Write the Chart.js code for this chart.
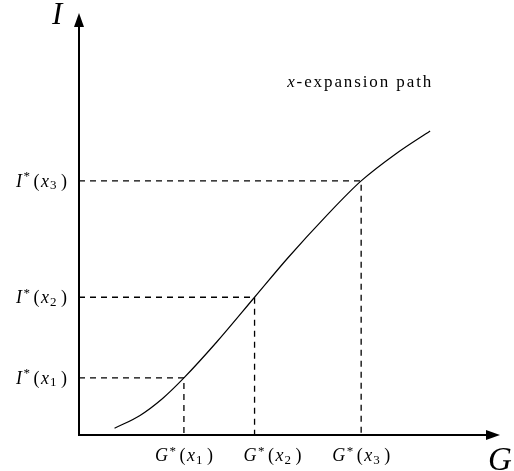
<!DOCTYPE html>
<html>
<head>
<meta charset="utf-8">
<script src="https://cdn.jsdelivr.net/npm/chart.js@4"></script>
<style>
  html, body { margin: 0; padding: 0; background: #fff; }
  #wrap { width: 514px; height: 471px; position: relative; }
</style>
</head>
<body>
<div id="wrap"><canvas id="pathChart"></canvas></div>
<script>
// expansion path, G on the horizontal axis, I on the vertical one
const pathG = [0.85, 1.45, 2.00, 2.51, 3.30, 4.20, 5.00, 5.90, 6.75, 7.60, 8.40];
const pathI = [0.16, 0.46, 0.87, 1.36, 2.22, 3.28, 4.22, 5.20, 6.05, 6.71, 7.24];

// optimal bundles for x1, x2, x3 (they sit on the path)
const starG = [2.51, 4.20, 6.75];
const starI = [1.36, 3.28, 6.05];
const subscripts = ['1', '2', '3'];

const axisTitles = { x: 'G', y: 'I' };
const pathLabel = ['x', '-expansion path'];

const SERIF = '"Liberation Serif", "DejaVu Serif", serif';

function fontFor(kind, size) {
  if (kind === 'i') return 'italic ' + size + 'px ' + SERIF;
  if (kind === 'sup' || kind === 'sub') return Math.round(size * 0.74) + 'px ' + SERIF;
  return size + 'px ' + SERIF;
}

// draws a small formula like I*(x_1); parts are [text, kind], gaps sit between parts
function drawMath(ctx, parts, gaps, x, y, align, size) {
  const widths = parts.map(([t, k]) => { ctx.font = fontFor(k, size); return ctx.measureText(t).width; });
  const total = widths.reduce((a, b) => a + b, 0) + gaps.reduce((a, b) => a + b, 0);
  let cx = align === 'right' ? x - total : align === 'center' ? x - total / 2 : x;
  ctx.textBaseline = 'alphabetic';
  ctx.textAlign = 'left';
  parts.forEach(([t, k], i) => {
    ctx.font = fontFor(k, size);
    let dy = 0;
    if (k === 'sup') dy = -size * 0.36;
    if (k === 'sub') dy = size * 0.14;
    ctx.fillText(t, cx, y + dy);
    cx += widths[i] + (gaps[i] || 0);
  });
}

function starParts(letter, i) {
  return [[letter, 'i'], ['*', 'sup'], ['(', 'r'], ['x', 'i'], [subscripts[i], 'sub'], [')', 'r']];
}
const starGaps = [1.5, 3.5, 1.5, 1, 4.5];

const mathAxes = {
  id: 'mathAxes',
  afterDatasetsDraw(chart, args, opts) {
    const { ctx, chartArea: a, scales } = chart;
    const x0 = scales.x.getPixelForValue(0);
    const y0 = scales.y.getPixelForValue(0);
    ctx.save();
    ctx.strokeStyle = '#000';
    ctx.fillStyle = '#000';
    ctx.lineWidth = 2;

    // axes with arrow heads
    ctx.beginPath();
    ctx.moveTo(x0, y0 + 1);
    ctx.lineTo(x0, a.top + 8);
    ctx.moveTo(x0 - 1, y0);
    ctx.lineTo(a.right - 8, y0);
    ctx.stroke();
    ctx.beginPath();
    ctx.moveTo(x0, a.top - 2);
    ctx.lineTo(x0 - 5, a.top + 12);
    ctx.lineTo(x0 + 5, a.top + 12);
    ctx.closePath();
    ctx.fill();
    ctx.beginPath();
    ctx.moveTo(a.right + 3, y0);
    ctx.lineTo(a.right - 11, y0 - 5);
    ctx.lineTo(a.right - 11, y0 + 5);
    ctx.closePath();
    ctx.fill();

    // axis titles
    ctx.textAlign = 'left';
    ctx.textBaseline = 'alphabetic';
    ctx.font = 'italic 31px ' + SERIF;
    ctx.fillText(axisTitles.y, x0 - 27, a.top + 9);
    ctx.font = 'italic 33px ' + SERIF;
    ctx.fillText(axisTitles.x, a.right - 9, y0 + 35);

    // tick labels at the optimal bundles
    starI.forEach((v, i) => {
      const py = scales.y.getPixelForValue(v);
      drawMath(ctx, starParts('I', i), starGaps, x0 - 12, py + 6, 'right', 18);
    });
    starG.forEach((v, i) => {
      const px = scales.x.getPixelForValue(v) + opts.gShift[i];
      drawMath(ctx, starParts('G', i), starGaps, px, y0 + 26, 'center', 18);
    });

    // path label, spread to its set width
    const lx = scales.x.getPixelForValue(opts.labelAt[0]);
    const ly = scales.y.getPixelForValue(opts.labelAt[1]);
    const fs = 17;
    ctx.font = 'italic ' + fs + 'px ' + SERIF;
    const w0 = ctx.measureText(pathLabel[0]).width;
    ctx.font = fs + 'px ' + SERIF;
    const w1 = ctx.measureText(pathLabel[1]).width;
    const n = pathLabel.join('').length;
    const spacing = Math.max(0, (opts.labelWidth - w0 - w1) / n);
    ctx.letterSpacing = spacing + 'px';
    ctx.font = 'italic ' + fs + 'px ' + SERIF;
    ctx.fillText(pathLabel[0], lx, ly);
    ctx.font = fs + 'px ' + SERIF;
    ctx.fillText(pathLabel[1], lx + w0 + spacing, ly);
    ctx.restore();
  }
};

const dashStyle = { borderColor: '#000', borderWidth: 1.3, borderDash: [6, 5], pointRadius: 0, fill: false, tension: 0 };

const datasets = [{
  data: pathG.map((g, i) => ({ x: g, y: pathI[i] })),
  borderColor: '#000',
  borderWidth: 1.2,
  pointRadius: 0,
  cubicInterpolationMode: 'monotone',
  fill: false
}];
starG.forEach((g, i) => {
  datasets.push(Object.assign({
    data: [{ x: 0, y: starI[i] }, { x: g, y: starI[i] }, { x: g, y: 0 }]
  }, dashStyle));
});

new Chart(document.getElementById('pathChart'), {
  type: 'line',
  data: { datasets },
  options: {
    responsive: true,
    maintainAspectRatio: false,
    animation: false,
    layout: { padding: { left: 79, right: 17, top: 15, bottom: 36 } },
    scales: {
      x: { type: 'linear', min: 0, max: 10, display: false },
      y: { type: 'linear', min: 0, max: 10, display: false }
    },
    plugins: {
      legend: { display: false },
      tooltip: { enabled: false },
      mathAxes: { gShift: [0, 18, 0], labelAt: [4.98, 8.28], labelWidth: 146 }
    }
  },
  plugins: [mathAxes]
});
</script>
</body>
</html>
